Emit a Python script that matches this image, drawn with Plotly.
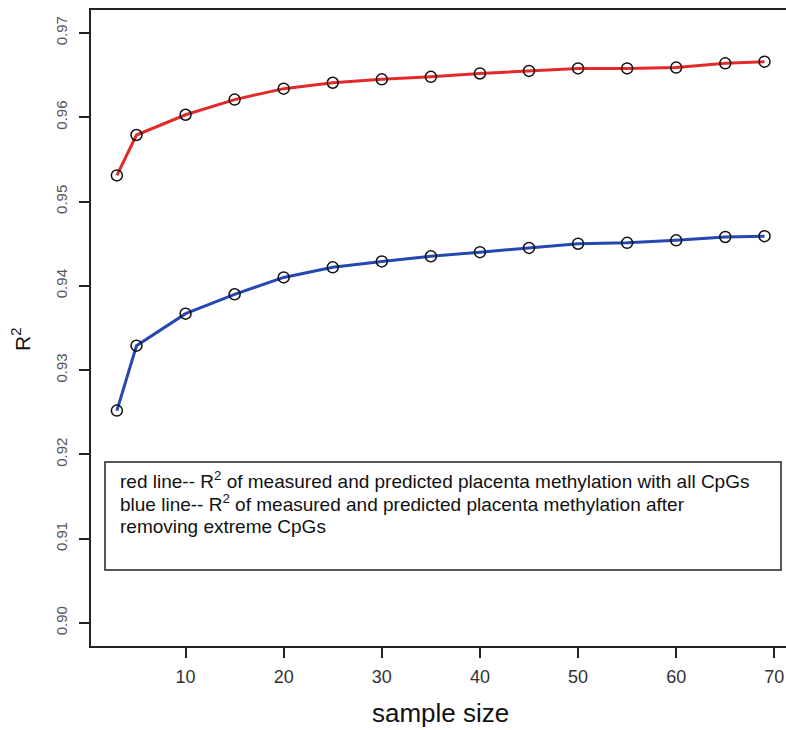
import plotly.graph_objects as go

sample_size = [3, 5, 10, 15, 20, 25, 30, 35, 40, 45, 50, 55, 60, 65, 69]
r2_all_cpgs = [0.9531, 0.9579, 0.9603, 0.9621, 0.9634, 0.9641, 0.9645, 0.9648,
               0.9652, 0.9655, 0.9658, 0.9658, 0.9659, 0.9664, 0.9666]
r2_no_extreme = [0.9252, 0.9329, 0.9367, 0.9390, 0.9410, 0.9422, 0.9429, 0.9435,
                 0.9440, 0.9445, 0.9450, 0.9451, 0.9454, 0.9458, 0.9459]
x_ticks = [10, 20, 30, 40, 50, 60, 70]
y_ticks = [0.90, 0.91, 0.92, 0.93, 0.94, 0.95, 0.96, 0.97]
legend_lines = [
    "red line-- R<sup>2</sup> of measured and predicted placenta methylation with all CpGs",
    "blue line-- R<sup>2</sup> of measured and predicted placenta methylation after",
    "removing extreme CpGs",
]

FONT = "Liberation Sans, Arial, sans-serif"

W, H = 786, 730
L, T, B = 91, 10, 84
PW, PH = W - L, H - T - B  # plot area size in px


def px_x(px):  # page x pixel -> paper fraction
    return (px - L) / PW


def px_y(py):  # page y pixel -> paper fraction
    return (H - B - py) / PH


fig = go.Figure()
for ys, col in [(r2_all_cpgs, "#e32a2a"), (r2_no_extreme, "#2448b0")]:
    fig.add_trace(go.Scatter(
        x=sample_size, y=ys, mode="lines+markers",
        line=dict(color=col, width=3),
        marker=dict(symbol="circle-open", size=11, color="#111111",
                    line=dict(width=1.5, color="#111111")),
        showlegend=False,
    ))

fig.add_shape(type="rect", xref="paper", yref="paper",
              x0=px_x(105), x1=px_x(781), y0=px_y(570), y1=px_y(462),
              line=dict(color="#222222", width=1.5), fillcolor="white", layer="below")

line_y = [480, 503, 526]
for txt, py in zip(legend_lines, line_y):
    fig.add_annotation(xref="paper", yref="paper",
                       x=px_x(118), y=px_y(py),
                       xanchor="left", yanchor="middle", showarrow=False,
                       text=txt, font=dict(family=FONT, size=19, color="#111111"))

# axis titles
fig.add_annotation(xref="paper", yref="paper", x=px_x(440), y=px_y(713),
                   xanchor="center", yanchor="middle", showarrow=False,
                   text="sample size", font=dict(family=FONT, size=26, color="#111111"))
fig.add_annotation(xref="paper", yref="paper", x=px_x(21), y=px_y(340),
                   xanchor="center", yanchor="middle", showarrow=False, textangle=-90,
                   text="R<sup>2</sup>", font=dict(family=FONT, size=21, color="#111111"))

fig.update_layout(
    width=W, height=H,
    margin=dict(l=L, r=0, t=T, b=B, autoexpand=False),
    plot_bgcolor="white", paper_bgcolor="white",
    font=dict(family=FONT, color="#222222"),
    xaxis=dict(
        automargin=False,
        range=[0.364, 71.19], tickvals=x_ticks, ticktext=[str(v) for v in x_ticks],
        showgrid=False, zeroline=False,
        showline=True, linecolor="#222222", linewidth=1.5, mirror=True,
        ticks="outside", ticklen=10, tickwidth=1.5, tickcolor="#222222",
        tickfont=dict(size=18, color="#333333"),
        ticklabeloverflow="allow", ticklabelstandoff=4,
    ),
    yaxis=dict(
        automargin=False,
        range=[0.89727, 0.97273], tickvals=y_ticks, tickformat=".2f",
        showgrid=False, zeroline=False,
        showline=True, linecolor="#222222", linewidth=1.5, mirror=False,
        ticks="outside", ticklen=10, tickwidth=1.5, tickcolor="#222222",
        tickangle=-90, tickfont=dict(size=15, color="#555555"),
        ticklabelstandoff=6,
    ),
)

# remove the browser's default 8px body margin so the figure fills the window
fig.write_html(
    "out.html",
    config={"displayModeBar": False},
    post_script="document.body.style.margin='0';document.body.style.overflow='hidden';",
)
